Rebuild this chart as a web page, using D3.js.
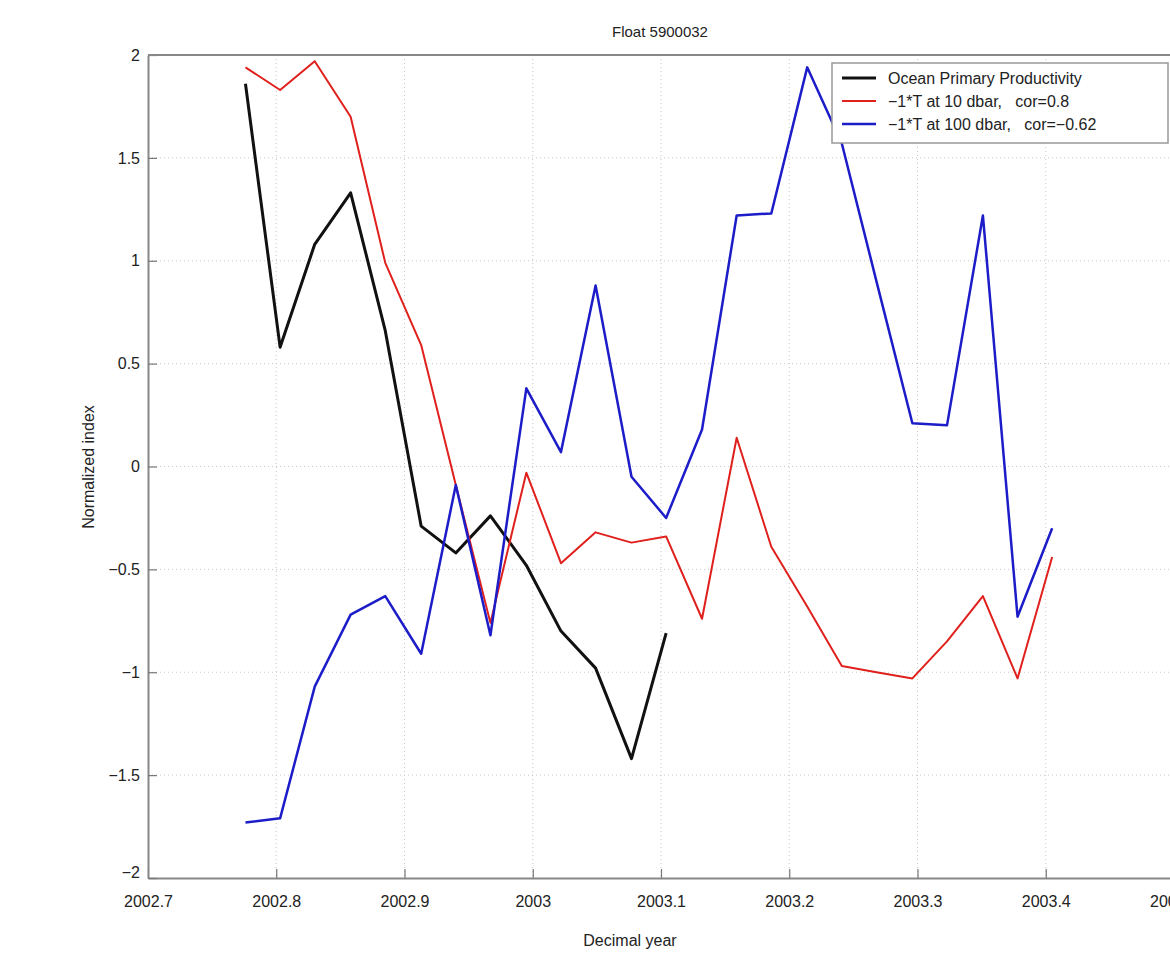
<!DOCTYPE html>
<html>
<head>
<meta charset="utf-8">
<script src="https://cdn.jsdelivr.net/npm/d3@7"></script>
<style>
  body { margin: 0; background: #fff; }
  text { font-family: "Liberation Sans", Arial, sans-serif; fill: #222; }
</style>
</head>
<body>
<div id="chart"></div>
<script>
// Decimal year of each profile (~10 day cycle)
const years = [2002.776, 2002.803, 2002.830, 2002.858, 2002.885, 2002.913, 2002.940, 2002.967,
  2002.995, 2003.022, 2003.049, 2003.077, 2003.104, 2003.132, 2003.159, 2003.186,
  2003.214, 2003.241, 2003.268, 2003.296, 2003.323, 2003.351, 2003.378, 2003.405];

const productivity = [1.86, 0.58, 1.08, 1.33, 0.66, -0.29, -0.42, -0.24, -0.48, -0.80, -0.98, -1.42, -0.81];

const temp10 = [1.94, 1.83, 1.97, 1.70, 0.99, 0.59, -0.09, -0.76, -0.03, -0.47, -0.32, -0.37,
  -0.34, -0.74, 0.14, -0.39, -0.68, -0.97, -1.00, -1.03, -0.85, -0.63, -1.03, -0.44];

const temp100 = [-1.73, -1.71, -1.07, -0.72, -0.63, -0.91, -0.09, -0.82, 0.38, 0.07, 0.88, -0.05,
  -0.25, 0.18, 1.22, 1.23, 1.94, 1.57, 0.90, 0.21, 0.20, 1.22, -0.73, -0.30];

const xTicks = [2002.7, 2002.8, 2002.9, 2003, 2003.1, 2003.2, 2003.3, 2003.4, 2003.5];
const xTickLabels = ["2002.7", "2002.8", "2002.9", "2003", "2003.1", "2003.2", "2003.3", "2003.4", "2003.5"];
const yTicks = [-2, -1.5, -1, -0.5, 0, 0.5, 1, 1.5, 2];
const yTickLabels = ["\u22122", "\u22121.5", "\u22121", "\u22120.5", "0", "0.5", "1", "1.5", "2"];

const seriesNames = ["Ocean Primary Productivity", "\u22121*T at 10 dbar,   cor=0.8", "\u22121*T at 100 dbar,   cor=\u22120.62"];
const seriesColors = ["#111111", "#e0201c", "#1c1cc8"];
const seriesWidths = [3, 2, 2.5];

const W = 1170, H = 955;
const margin = {top: 55, left: 148},
  width = 1026,
  height = 823;

const svg = d3.select("#chart")
  .append("svg")
  .attr("width", W)
  .attr("height", H);

const g = svg.append("g")
  .attr("transform", `translate(${margin.left},${margin.top})`);

const x = d3.scaleLinear().domain([2002.7, 2003.5]).range([0, width]);
const y = d3.scaleLinear().domain([-2, 2]).range([height, 0]);

// Grid
g.selectAll(".vgrid")
  .data(xTicks.slice(1, -1))
  .enter().append("line")
  .attr("x1", d => x(d)).attr("x2", d => x(d))
  .attr("y1", 0).attr("y2", height)
  .attr("stroke", "#c8c8c8").attr("stroke-width", 1)
  .attr("stroke-dasharray", "1,3");

g.selectAll(".hgrid")
  .data(yTicks.slice(1, -1))
  .enter().append("line")
  .attr("y1", d => y(d)).attr("y2", d => y(d))
  .attr("x1", 0).attr("x2", width)
  .attr("stroke", "#c8c8c8").attr("stroke-width", 1)
  .attr("stroke-dasharray", "1,3");

// Axes (ticks pointing inward)
const xAxis = g.append("g")
  .attr("transform", `translate(0,${height})`)
  .call(d3.axisBottom(x).tickValues(xTicks)
    .tickFormat((d, i) => xTickLabels[i])
    .tickSizeInner(-9).tickSizeOuter(0).tickPadding(18));

const yAxis = g.append("g")
  .call(d3.axisLeft(y).tickValues(yTicks)
    .tickFormat((d, i) => yTickLabels[i])
    .tickSizeInner(-9).tickSizeOuter(0).tickPadding(8));

[xAxis, yAxis].forEach(a => {
  a.select(".domain").attr("stroke", "#888").attr("stroke-width", 2);
  a.selectAll(".tick line").attr("stroke", "#777").attr("stroke-width", 1.2);
  a.selectAll(".tick text").style("font-size", "16px").attr("fill", "#222");
});
yAxis.selectAll(".tick").filter(d => d === -2).select("text").attr("dy", "-0.05em");

// Top border
g.append("line")
  .attr("x1", 0).attr("x2", width)
  .attr("y1", 0).attr("y2", 0)
  .attr("stroke", "#888").attr("stroke-width", 2);

// Lines
const line = d3.line()
  .x(d => x(d[0]))
  .y(d => y(d[1]));

const allSeries = [productivity, temp10, temp100];
allSeries.forEach((vals, k) => {
  g.append("path")
    .datum(vals.map((v, i) => [years[i], v]))
    .attr("fill", "none")
    .attr("stroke", seriesColors[k])
    .attr("stroke-width", seriesWidths[k])
    .attr("stroke-linejoin", "round")
    .attr("d", line);
});

// Legend
const legend = svg.append("g").attr("transform", "translate(832,63)");
legend.append("rect")
  .attr("width", 336).attr("height", 80)
  .attr("fill", "#fff").attr("stroke", "#999").attr("stroke-width", 1.5);
seriesNames.forEach((name, k) => {
  const ly = 15 + k * 23;
  legend.append("line")
    .attr("x1", 10).attr("x2", 44)
    .attr("y1", ly).attr("y2", ly)
    .attr("stroke", seriesColors[k]).attr("stroke-width", seriesWidths[k]);
  legend.append("text")
    .attr("x", 56).attr("y", ly + 6)
    .style("font-size", "16px")
    .style("white-space", "pre")
    .attr("xml:space", "preserve")
    .text(name);
});

// Titles
svg.append("text")
  .attr("x", 660).attr("y", 37)
  .attr("text-anchor", "middle")
  .style("font-size", "15px")
  .text("Float 5900032");

svg.append("text")
  .attr("x", 630).attr("y", 946)
  .attr("text-anchor", "middle")
  .style("font-size", "16px")
  .text("Decimal year");

svg.append("text")
  .attr("transform", "translate(94,467) rotate(-90)")
  .attr("text-anchor", "middle")
  .style("font-size", "16px")
  .text("Normalized index");
</script>
</body>
</html>
